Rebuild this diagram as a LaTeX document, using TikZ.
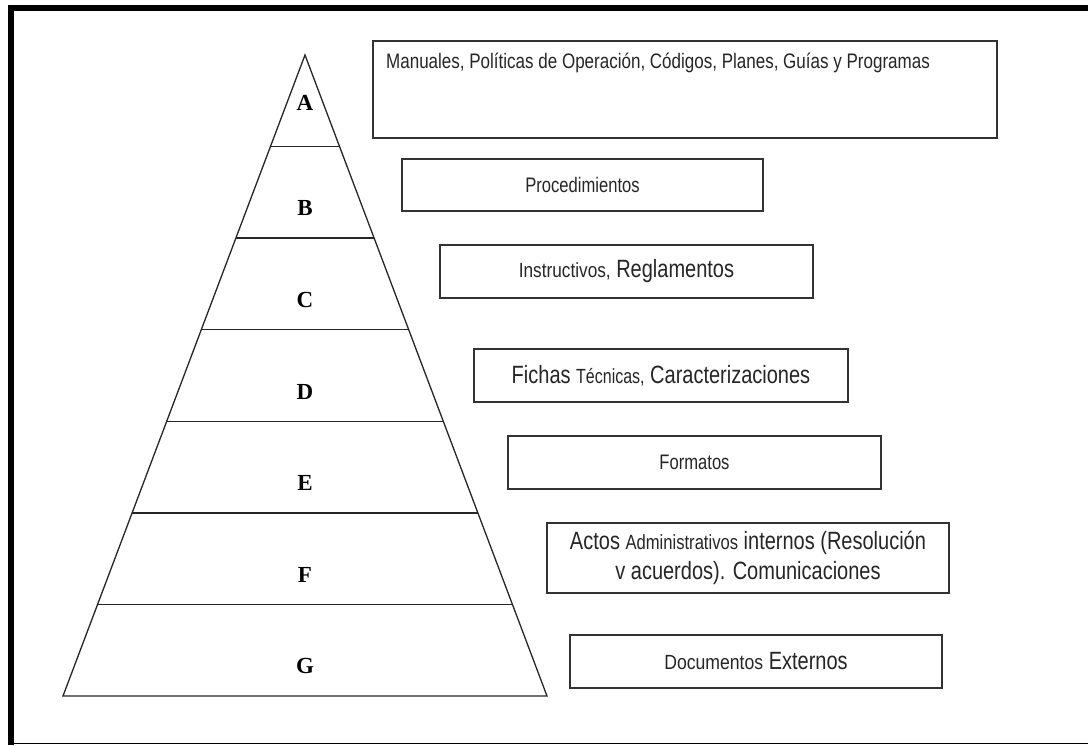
\documentclass[tikz,border=0pt]{standalone}
\usepackage{fontspec}
\usepackage{graphicx}
\setmainfont{Liberation Sans}
\newfontfamily\tierfont{Liberation Serif}
% condensed sans text in three sizes
\newcommand\txtM[1]{\scalebox{.79}[1]{\fontsize{21}{24}\selectfont #1}}
\newcommand\txtL[1]{\scalebox{.8}[1]{\fontsize{25}{30}\selectfont #1}}
\newcommand\txtS[1]{\scalebox{.84}[1]{\fontsize{20.5}{24}\selectfont #1}}
\tikzset{
  docbox/.style={draw=black!80, line width=1.6pt, fill=white, inner sep=0pt,
    text=black!85, font=\fontsize{20}{32}\selectfont, align=center},
  tier/.style={font=\tierfont\bfseries\fontsize{23}{25}\selectfont, text=black},
  tierline/.style={draw=black!85, line width=1.3pt}
}
\begin{document}
\begin{tikzpicture}[x=1pt,y=-1pt]
\useasboundingbox (0,0) rectangle (1088,745);
\fill[white] (0,0) rectangle (1088,745);

% page frame: heavy top and left rules, thin bottom rule
\draw[line width=6pt] (11,745) -- (11,8) -- (1088,8);
\draw[line width=1.5pt] (8,743.5) -- (1088,743.5);

% the pyramid and its seven tiers
\coordinate (apex) at (305,55);
\coordinate (bl) at (63,696);
\coordinate (br) at (547,696);
\draw[tierline, line join=miter] (bl) -- (apex) -- (br) -- cycle;
\foreach \k in {1,...,6}{
  \pgfmathsetmacro\yy{55+\k*641/7}
  \pgfmathsetmacro\dx{242*\k/7}
  \draw[tierline] (305-\dx,\yy) -- (305+\dx,\yy);
}
\node[tier] (tA) at (305,103) {A};
\foreach \l [count=\k] in {B,C,D,E,F,G}{
  \pgfmathsetmacro\yy{55+(\k+0.5)*641/7+16}
  \node[tier] (t\l) at (305,\yy) {\l};
}

% document boxes
\node[docbox, minimum width=624pt, minimum height=97pt] (bA) at (685,89.5) {};
\node[anchor=west, text=black!85, inner sep=0pt] (lA) at (386,63)
  {\scalebox{.81}[1]{\fontsize{21}{24}\selectfont Manuales, Políticas de Operación, Códigos, Planes, Guías y Programas}};

\node[docbox, minimum width=361pt, minimum height=52pt] (bB) at (582.5,185)
  {\txtM{Procedimientos}};

\node[docbox, minimum width=373pt, minimum height=53pt] (bC) at (626.5,271.5)
  {\txtS{Instructivos,} \txtL{Reglamentos}};

\node[docbox, minimum width=374pt, minimum height=53pt] (bD) at (661,375.5)
  {\txtL{Fichas} \scalebox{.78}[1]{\fontsize{20.5}{24}\selectfont Técnicas,} \txtL{Caracterizaciones}};

\node[docbox, minimum width=373pt, minimum height=53pt] (bE) at (694.5,462.5)
  {\txtM{Formatos}};

\node[docbox, minimum width=402pt, minimum height=70pt] (bF) at (748,558)
  {\txtL{Actos} \scalebox{.81}[1]{\fontsize{20.5}{24}\selectfont Administrativos} \txtL{internos (Resolución}\\[-2pt]
   \txtL{v acuerdos). Comunicaciones}};

\node[docbox, minimum width=372pt, minimum height=53pt] (bG) at (756,661.5)
  {\scalebox{.86}[1]{\fontsize{20.5}{24}\selectfont Documentos} \txtL{Externos}};
\end{tikzpicture}
\end{document}
